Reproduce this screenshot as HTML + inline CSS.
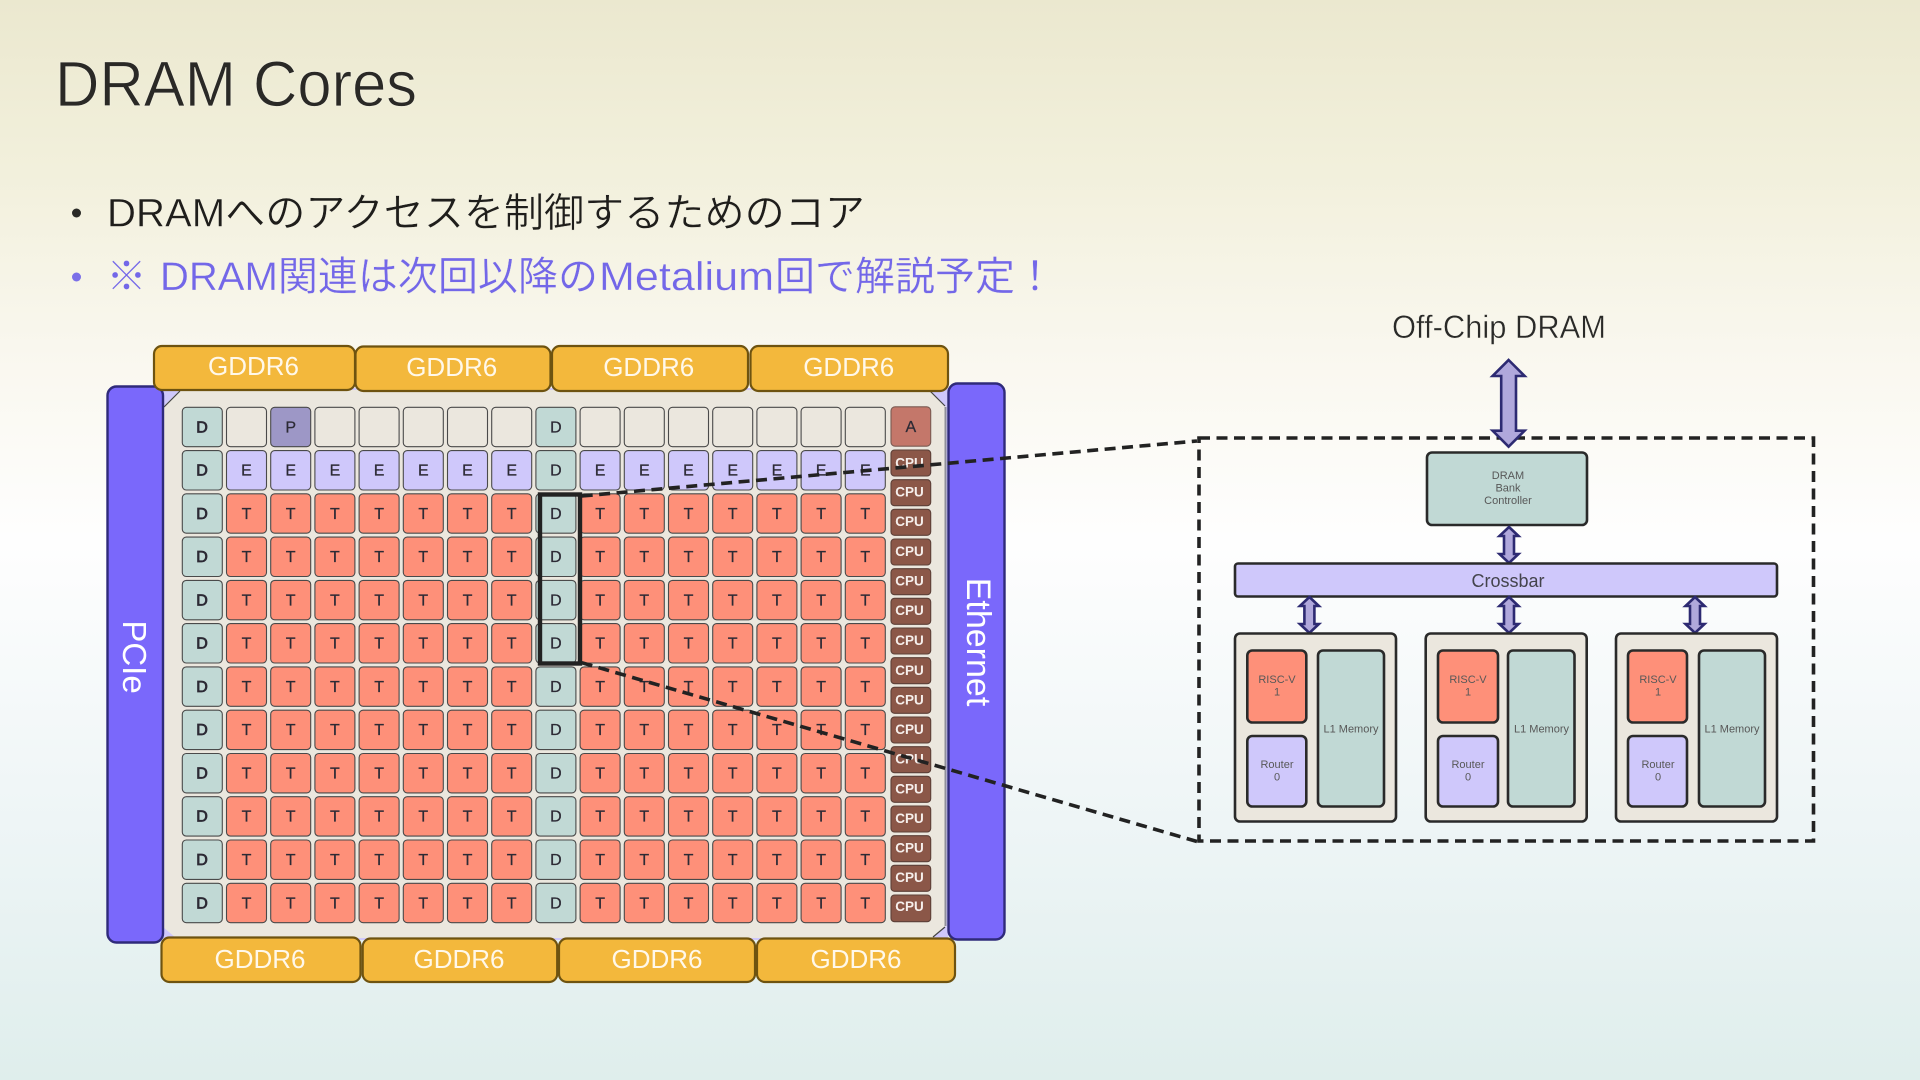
<!DOCTYPE html>
<html lang="ja">
<head>
<meta charset="utf-8">
<title>DRAM Cores</title>
<style>
html,body{margin:0;padding:0;width:1920px;height:1080px;overflow:hidden;background:#fff}
svg{display:block}
text{font-family:"Liberation Sans","Noto Sans CJK JP",sans-serif}
.c rect,rect.c{stroke:#4a4a4a;stroke-width:1.1}
.D{fill:#c1d9d5}.B{fill:#ebe7de}.P{fill:#9d97c6}.E{fill:#cfc8fb}.T{fill:#fe9079}
.G{fill:#f3b83c;stroke:#6e5310;stroke-width:2.2}
.gt{fill:#fff8ea;font-size:26px;text-anchor:middle}
.cell{font-size:16px;fill:#2c2a35;text-anchor:middle;stroke:#2c2a35;stroke-width:.25}
.bold{stroke-width:.8}
.cpu{fill:#8b5748;stroke:#5d4038;stroke-width:1.1}
.cput{fill:#f6efec;font-size:13.5px;font-weight:bold;text-anchor:middle}
.ar{fill:#b0a8dc;stroke:#2d2a72;stroke-width:2.6;stroke-linejoin:miter}
.box{stroke:#2a2a2a;stroke-width:2.6}
.s{font-size:11px;fill:#585858;text-anchor:middle}
.dash{fill:none;stroke:#222;stroke-width:3.6;stroke-dasharray:11 6.5}
</style>
</head>
<body>
<svg width="1920" height="1080" viewBox="0 0 1920 1080" xmlns="http://www.w3.org/2000/svg">
<defs>
<linearGradient id="bg" x1="0" y1="0" x2="0" y2="1">
<stop offset="0" stop-color="#ebe8cf"/>
<stop offset=".16" stop-color="#f2f0dc"/>
<stop offset=".32" stop-color="#f9f7ee"/>
<stop offset=".5" stop-color="#fefefe"/>
<stop offset=".76" stop-color="#eef5f6"/>
<stop offset="1" stop-color="#dfeeec"/>
</linearGradient>
<g id="row" class="c">
<rect class="D" x="182.3" y="0" width="40" height="39.4" rx="4"/>
<rect class="T" x="226.5" y="0" width="40" height="39.4" rx="4"/>
<rect class="T" x="270.7" y="0" width="40" height="39.4" rx="4"/>
<rect class="T" x="314.9" y="0" width="40" height="39.4" rx="4"/>
<rect class="T" x="359.1" y="0" width="40" height="39.4" rx="4"/>
<rect class="T" x="403.3" y="0" width="40" height="39.4" rx="4"/>
<rect class="T" x="447.5" y="0" width="40" height="39.4" rx="4"/>
<rect class="T" x="491.7" y="0" width="40" height="39.4" rx="4"/>
<rect class="D" x="535.9" y="0" width="40" height="39.4" rx="4"/>
<rect class="T" x="580.1" y="0" width="40" height="39.4" rx="4"/>
<rect class="T" x="624.3" y="0" width="40" height="39.4" rx="4"/>
<rect class="T" x="668.5" y="0" width="40" height="39.4" rx="4"/>
<rect class="T" x="712.7" y="0" width="40" height="39.4" rx="4"/>
<rect class="T" x="756.9" y="0" width="40" height="39.4" rx="4"/>
<rect class="T" x="801.1" y="0" width="40" height="39.4" rx="4"/>
<rect class="T" x="845.3" y="0" width="40" height="39.4" rx="4"/>
</g>
<path id="sa" class="ar" d="M0,0L9.5,9L5,9L5,27L9.5,27L0,36L-9.5,27L-5,27L-5,9L-9.5,9Z"/>
</defs>

<rect width="1920" height="1080" fill="url(#bg)"/>

<!-- Heading -->
<text x="55" y="106" font-size="64" fill="#2a2926" stroke="#f1efdd" stroke-width=".8" textLength="362" lengthAdjust="spacingAndGlyphs">DRAM Cores</text>
<circle cx="76.500" cy="213" r="4.5" fill="#2a2a26"/>
<text x="107" y="226.500" font-size="40" fill="#1f1e1b" stroke="#f6f4e6" stroke-width=".4" textLength="758" lengthAdjust="spacingAndGlyphs">DRAMへのアクセスを制御するためのコア</text>
<circle cx="76.500" cy="277" r="4.5" fill="#7b6fe8"/>
<g font-size="40" fill="#7367e8" stroke="#f7f5e9" stroke-width=".3">
<text x="106.500" y="290">※</text>
<text x="160" y="290" textLength="438" lengthAdjust="spacingAndGlyphs">DRAM関連は次回以降の</text>
<text x="599" y="290" textLength="175" lengthAdjust="spacingAndGlyphs">Metalium</text>
<text x="775" y="290" textLength="280" lengthAdjust="spacingAndGlyphs">回で解説予定！</text>
</g>

<!-- Chip -->
<rect x="163" y="388" width="785" height="552" fill="#cfc8fb"/>
<path d="M180,390L930,390L946,407L946,926L933,938L176,938L163,927L163,407Z" fill="#ebe7de"/>
<path d="M180,391L164,407M930,391L945,406M945,927L933,937" stroke="#444" stroke-width="1.2" fill="none"/>
<path d="M945.500,407V926" stroke="#8f8f9a" stroke-width="2" fill="none"/>

<!-- Row 1 -->
<g class="c">
<rect class="D" x="182.3" y="407.3" width="40" height="39.4" rx="4"/>
<rect class="B" x="226.5" y="407.3" width="40" height="39.4" rx="4"/>
<rect class="P" x="270.7" y="407.3" width="40" height="39.4" rx="4"/>
<rect class="B" x="314.9" y="407.3" width="40" height="39.4" rx="4"/>
<rect class="B" x="359.1" y="407.3" width="40" height="39.4" rx="4"/>
<rect class="B" x="403.3" y="407.3" width="40" height="39.4" rx="4"/>
<rect class="B" x="447.5" y="407.3" width="40" height="39.4" rx="4"/>
<rect class="B" x="491.7" y="407.3" width="40" height="39.4" rx="4"/>
<rect class="D" x="535.9" y="407.3" width="40" height="39.4" rx="4"/>
<rect class="B" x="580.1" y="407.3" width="40" height="39.4" rx="4"/>
<rect class="B" x="624.3" y="407.3" width="40" height="39.4" rx="4"/>
<rect class="B" x="668.5" y="407.3" width="40" height="39.4" rx="4"/>
<rect class="B" x="712.7" y="407.3" width="40" height="39.4" rx="4"/>
<rect class="B" x="756.9" y="407.3" width="40" height="39.4" rx="4"/>
<rect class="B" x="801.1" y="407.3" width="40" height="39.4" rx="4"/>
<rect class="B" x="845.3" y="407.3" width="40" height="39.4" rx="4"/>
<!-- Row 2 -->
<rect class="D" x="182.3" y="450.6" width="40" height="39.4" rx="4"/>
<rect class="E" x="226.5" y="450.6" width="40" height="39.4" rx="4"/>
<rect class="E" x="270.7" y="450.6" width="40" height="39.4" rx="4"/>
<rect class="E" x="314.9" y="450.6" width="40" height="39.4" rx="4"/>
<rect class="E" x="359.1" y="450.6" width="40" height="39.4" rx="4"/>
<rect class="E" x="403.3" y="450.6" width="40" height="39.4" rx="4"/>
<rect class="E" x="447.5" y="450.6" width="40" height="39.4" rx="4"/>
<rect class="E" x="491.7" y="450.6" width="40" height="39.4" rx="4"/>
<rect class="D" x="535.9" y="450.6" width="40" height="39.4" rx="4"/>
<rect class="E" x="580.1" y="450.6" width="40" height="39.4" rx="4"/>
<rect class="E" x="624.3" y="450.6" width="40" height="39.4" rx="4"/>
<rect class="E" x="668.5" y="450.6" width="40" height="39.4" rx="4"/>
<rect class="E" x="712.7" y="450.6" width="40" height="39.4" rx="4"/>
<rect class="E" x="756.9" y="450.6" width="40" height="39.4" rx="4"/>
<rect class="E" x="801.1" y="450.6" width="40" height="39.4" rx="4"/>
<rect class="E" x="845.3" y="450.6" width="40" height="39.4" rx="4"/>
</g>
<use href="#row" y="493.8"/><use href="#row" y="537.1"/><use href="#row" y="580.4"/><use href="#row" y="623.6"/><use href="#row" y="666.9"/><use href="#row" y="710.2"/><use href="#row" y="753.5"/><use href="#row" y="796.7"/><use href="#row" y="840"/><use href="#row" y="883.3"/>

<g class="cell">
<text x="290.7 555.9" y="432.4">PD</text>
<text x="246.5 290.7 334.9 379.1 423.3 467.5 511.7 555.9 600.1 644.3 688.5 732.7 776.9 821.1 865.3" y="475.600">EEEEEEEDEEEEEEE</text>
<text x="246.5 290.7 334.9 379.1 423.3 467.5 511.7 555.9 600.1 644.3 688.5 732.7 776.9 821.1 865.3" y="518.800">TTTTTTTDTTTTTTT</text>
<text x="246.5 290.7 334.9 379.1 423.3 467.5 511.7 555.9 600.1 644.3 688.5 732.7 776.9 821.1 865.3" y="562.100">TTTTTTTDTTTTTTT</text>
<text x="246.5 290.7 334.9 379.1 423.3 467.5 511.7 555.9 600.1 644.3 688.5 732.7 776.9 821.1 865.3" y="605.400">TTTTTTTDTTTTTTT</text>
<text x="246.5 290.7 334.9 379.1 423.3 467.5 511.7 555.9 600.1 644.3 688.5 732.7 776.9 821.1 865.3" y="648.600">TTTTTTTDTTTTTTT</text>
<text x="246.5 290.7 334.9 379.1 423.3 467.5 511.7 555.9 600.1 644.3 688.5 732.7 776.9 821.1 865.3" y="691.900">TTTTTTTDTTTTTTT</text>
<text x="246.5 290.7 334.9 379.1 423.3 467.5 511.7 555.9 600.1 644.3 688.5 732.7 776.9 821.1 865.3" y="735.200">TTTTTTTDTTTTTTT</text>
<text x="246.5 290.7 334.9 379.1 423.3 467.5 511.7 555.9 600.1 644.3 688.5 732.7 776.9 821.1 865.3" y="778.500">TTTTTTTDTTTTTTT</text>
<text x="246.5 290.7 334.9 379.1 423.3 467.5 511.7 555.9 600.1 644.3 688.5 732.7 776.9 821.1 865.3" y="821.700">TTTTTTTDTTTTTTT</text>
<text x="246.5 290.7 334.9 379.1 423.3 467.5 511.7 555.9 600.1 644.3 688.5 732.7 776.9 821.1 865.3" y="865">TTTTTTTDTTTTTTT</text>
<text x="246.5 290.7 334.9 379.1 423.3 467.5 511.7 555.9 600.1 644.3 688.5 732.7 776.9 821.1 865.3" y="908.300">TTTTTTTDTTTTTTT</text>
</g>
<g class="cell bold">
<text x="202" y="432.4">D</text>
<text x="202" y="475.600">D</text>
<text x="202" y="518.800">D</text>
<text x="202" y="562.100">D</text>
<text x="202" y="605.400">D</text>
<text x="202" y="648.600">D</text>
<text x="202" y="691.900">D</text>
<text x="202" y="735.200">D</text>
<text x="202" y="778.500">D</text>
<text x="202" y="821.700">D</text>
<text x="202" y="865">D</text>
<text x="202" y="908.300">D</text>
</g>

<!-- A + CPU column -->
<rect x="891" y="406.8" width="39.700" height="39.400" rx="4" fill="#c4776a" stroke="#7a5a52" stroke-width="1.1"/>
<text class="cell" x="910.800" y="432.2">A</text>
<g class="cpu">
<rect x="891" y="450" width="39.700" height="26" rx="3.500"/>
<rect x="891" y="479.700" width="39.700" height="26" rx="3.500"/>
<rect x="891" y="509.300" width="39.700" height="26" rx="3.500"/>
<rect x="891" y="539" width="39.700" height="26" rx="3.500"/>
<rect x="891" y="568.700" width="39.700" height="26" rx="3.500"/>
<rect x="891" y="598.300" width="39.700" height="26" rx="3.500"/>
<rect x="891" y="628" width="39.700" height="26" rx="3.500"/>
<rect x="891" y="657.700" width="39.700" height="26" rx="3.500"/>
<rect x="891" y="687.300" width="39.700" height="26" rx="3.500"/>
<rect x="891" y="717" width="39.700" height="26" rx="3.500"/>
<rect x="891" y="746.700" width="39.700" height="26" rx="3.500"/>
<rect x="891" y="776.300" width="39.700" height="26" rx="3.500"/>
<rect x="891" y="806" width="39.700" height="26" rx="3.500"/>
<rect x="891" y="835.700" width="39.700" height="26" rx="3.500"/>
<rect x="891" y="865.300" width="39.700" height="26" rx="3.500"/>
<rect x="891" y="895" width="39.700" height="26.700" rx="3.500"/>
</g>
<g class="cput">
<text x="909.500" y="467.500">CPU</text>
<text x="909.500" y="496.500">CPU</text>
<text x="909.500" y="526">CPU</text>
<text x="909.500" y="556">CPU</text>
<text x="909.500" y="585.500">CPU</text>
<text x="909.500" y="615">CPU</text>
<text x="909.500" y="645">CPU</text>
<text x="909.500" y="675">CPU</text>
<text x="909.500" y="704.500">CPU</text>
<text x="909.500" y="734">CPU</text>
<text x="909.500" y="763.500">CPU</text>
<text x="909.500" y="793.500">CPU</text>
<text x="909.500" y="823">CPU</text>
<text x="909.500" y="852.500">CPU</text>
<text x="909.500" y="882">CPU</text>
<text x="909.500" y="911">CPU</text>
</g>

<!-- PCIe / Ethernet -->
<rect x="107.500" y="386.500" width="55.500" height="556" rx="9" fill="#7a68fb" stroke="#2f2a7a" stroke-width="2.4"/>
<rect x="948.500" y="383.500" width="56" height="556" rx="9" fill="#7a68fb" stroke="#2f2a7a" stroke-width="2.4"/>
<text transform="translate(123,657) rotate(90)" font-size="33" fill="#fff" text-anchor="middle">PCIe</text>
<text transform="translate(967,642) rotate(90)" font-size="34" fill="#fff" text-anchor="middle">Ethernet</text>

<!-- GDDR6 -->
<rect class="G" x="154" y="346" width="201" height="44" rx="8"/>
<rect class="G" x="355.500" y="346.500" width="195" height="44.500" rx="8"/>
<rect class="G" x="552" y="346" width="196" height="45" rx="8"/>
<rect class="G" x="750.500" y="346" width="197.500" height="45" rx="8"/>
<text class="gt" x="253.500" y="375">GDDR6</text>
<text class="gt" x="451.700" y="376">GDDR6</text>
<text class="gt" x="648.700" y="376">GDDR6</text>
<text class="gt" x="848.700" y="376">GDDR6</text>
<rect class="G" x="161.500" y="937.500" width="199" height="44.500" rx="8"/>
<rect class="G" x="362.700" y="938.500" width="194.500" height="43.500" rx="8"/>
<rect class="G" x="559" y="938.500" width="196" height="43.500" rx="8"/>
<rect class="G" x="757" y="938.500" width="198" height="43.500" rx="8"/>
<text class="gt" x="260" y="968">GDDR6</text>
<text class="gt" x="459" y="968">GDDR6</text>
<text class="gt" x="657" y="968">GDDR6</text>
<text class="gt" x="856" y="968">GDDR6</text>

<!-- Selected D column -->
<rect x="540" y="494.500" width="40" height="169" fill="none" stroke="#222" stroke-width="4.400"/>

<!-- Zoom callout -->
<path class="dash" d="M581.700,496L1197,441"/>
<path class="dash" d="M581.700,662.700L1197,841.500"/>
<rect class="dash" x="1199" y="438" width="614.500" height="403"/>

<!-- Right detail -->
<text x="1392" y="338" font-size="32" fill="#2a2a28" stroke="#f8f6ec" stroke-width=".4" textLength="214" lengthAdjust="spacingAndGlyphs">Off-Chip DRAM</text>
<path class="ar" d="M1508.600,360L1524.600,376L1516,376L1516,430.700L1524.600,430.700L1508.600,446.700L1492.600,430.700L1501.200,430.700L1501.200,376L1492.600,376Z"/>

<rect class="box D" x="1427" y="452.500" width="160" height="72.500" rx="5"/>
<text class="s" x="1508" y="479">DRAM</text>
<text class="s" x="1508" y="491.500">Bank</text>
<text class="s" x="1508" y="504">Controller</text>

<use href="#sa" transform="translate(1509,527)"/>
<rect class="box E" x="1235" y="563.500" width="542" height="33" rx="3"/>
<text x="1508" y="587" font-size="18" fill="#44444c" text-anchor="middle">Crossbar</text>
<use href="#sa" transform="translate(1309.400,597)"/>
<use href="#sa" transform="translate(1509,597)"/>
<use href="#sa" transform="translate(1695,597)"/>

<rect class="box B" x="1235" y="633.500" width="161" height="188" rx="5"/>
<rect class="box T" x="1247.300" y="650.500" width="59" height="72" rx="5"/>
<rect class="box E" x="1247.300" y="736" width="59" height="70.500" rx="5"/>
<rect class="box D" x="1318" y="650.500" width="66" height="156" rx="5"/>
<text class="s" x="1277" y="683">RISC-V</text>
<text class="s" x="1277" y="695.500">1</text>
<text class="s" x="1277" y="768">Router</text>
<text class="s" x="1277" y="780.500">0</text>
<text class="s" x="1351" y="732.500">L1 Memory</text>

<rect class="box B" x="1425.700" y="633.500" width="161" height="188" rx="5"/>
<rect class="box T" x="1438" y="650.500" width="60" height="72" rx="5"/>
<rect class="box E" x="1438" y="736" width="60" height="70.500" rx="5"/>
<rect class="box D" x="1508" y="650.500" width="66.500" height="156" rx="5"/>
<text class="s" x="1468" y="683">RISC-V</text>
<text class="s" x="1468" y="695.500">1</text>
<text class="s" x="1468" y="768">Router</text>
<text class="s" x="1468" y="780.500">0</text>
<text class="s" x="1541.500" y="732.500">L1 Memory</text>

<rect class="box B" x="1616" y="633.500" width="161" height="188" rx="5"/>
<rect class="box T" x="1628" y="650.500" width="59" height="72" rx="5"/>
<rect class="box E" x="1628" y="736" width="59" height="70.500" rx="5"/>
<rect class="box D" x="1699" y="650.500" width="66" height="156" rx="5"/>
<text class="s" x="1658" y="683">RISC-V</text>
<text class="s" x="1658" y="695.500">1</text>
<text class="s" x="1658" y="768">Router</text>
<text class="s" x="1658" y="780.500">0</text>
<text class="s" x="1732" y="732.500">L1 Memory</text>
</svg>
</body>
</html>
